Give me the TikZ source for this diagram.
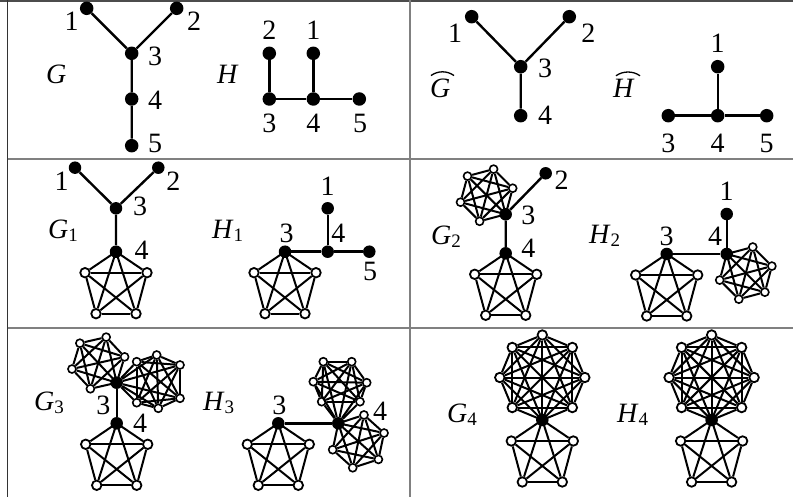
\documentclass[tikz,border=0pt]{standalone}
\usepackage{fontspec}
\setmainfont{Liberation Serif}
\usetikzlibrary{calc}
\tikzset{
  fn/.style={circle,fill=black,inner sep=0pt,minimum size=13.5pt},
  fns/.style={circle,fill=black,inner sep=0pt,minimum size=12.5pt},
  oc/.style={circle,draw=black,fill=white,line width=1.8pt,inner sep=0pt,minimum size=9.5pt},
  ocs/.style={circle,draw=black,fill=white,line width=1.6pt,inner sep=0pt,minimum size=8pt},
  tedge/.style={line width=2.4pt},
  cedge/.style={line width=2pt},
  lbl/.style={inner sep=0pt,font=\fontsize{28}{28}\selectfont},
  gname/.style={inner sep=0pt,anchor=base west,font=\fontsize{28}{28}\selectfont},
  hat/.style={line width=1.3pt},
  grid/.style={draw=black!50,line width=2pt}
}
\newcommand\completeg[1]{\foreach \a [count=\i] in {#1}{\foreach \b [count=\j] in {#1}{\ifnum\i<\j\relax\draw[cedge] (\a) -- (\b);\fi}}}
\newcommand\pentk[2]{%
  \coordinate (#1-1) at (#2);
  \node[oc] (#1-2) at ($(#2)+(-31,21)$) {};
  \node[oc] (#1-3) at ($(#2)+(31,21)$) {};
  \node[oc] (#1-4) at ($(#2)+(-20,62)$) {};
  \node[oc] (#1-5) at ($(#2)+(20,62)$) {};
  \completeg{#1-1,#1-2,#1-3,#1-4,#1-5}}
\newcommand\polyclique[6]{%
  \coordinate (#1-c) at ($(#3)+(#5:#4)$);
  \coordinate (#1-1) at (#3);
  \foreach \k in {2,...,#2}{\node[#6] (#1-\k) at ($(#1-c)+({#5+180+360*(\k-1)/#2}:#4)$) {};}
  \foreach \i in {1,...,#2}{\foreach \j in {1,...,#2}{\ifnum\i<\j\relax\draw[cedge] (#1-\i) -- (#1-\j);\fi}}}
\newcommand\sub[1]{\raisebox{-3pt}{\fontsize{19}{19}\selectfont #1}}
\begin{document}
\begin{tikzpicture}[x=1pt,y=-1pt]
\useasboundingbox (0,0) rectangle (793,497);
% table
\draw[draw=black!70,line width=1.8pt] (0,0.9) -- (793,0.9);
\draw[draw=black!80,line width=1.8pt] (7.5,0) -- (7.5,497);
\draw[grid] (410,0) -- (410,497);
\draw[grid] (7.5,159) -- (793,159);
\draw[grid] (7.5,328) -- (793,328);

% ---------- panel 1: G ----------
\node[fn] (a1) at (86.7,8.3) {};
\node[fn] (a2) at (176.7,8.3) {};
\node[fn] (a3) at (131.7,53.3) {};
\node[fn] (a4) at (131.7,99) {};
\node[fn] (a5) at (131.7,145.7) {};
\draw[tedge] (a1) -- (a3) (a2) -- (a3) (a3) -- (a4) (a4) -- (a5);
\node[lbl] (la1) at (71.7,21.7) {1};
\node[lbl] (la2) at (194,21.7) {2};
\node[lbl] (la3) at (155,56.7) {3};
\node[lbl] (la4) at (155,100) {4};
\node[lbl] (la5) at (155,143) {5};
\node[gname] (nG) at (46,84) {\textit{G}};
% H
\node[fn] (b2) at (269.3,53.3) {};
\node[fn] (b1) at (313.3,53.3) {};
\node[fn] (b3) at (269.3,99) {};
\node[fn] (b4) at (313.3,99) {};
\node[fn] (b5) at (359.3,99) {};
\draw[tedge] (b2) -- (b3) (b1) -- (b4) (b3) -- (b4) (b4) -- (b5);
\node[lbl] (lb2) at (269.3,30) {2};
\node[lbl] (lb1) at (313.3,30) {1};
\node[lbl] (lb3) at (269.3,123.3) {3};
\node[lbl] (lb4) at (313.3,123.3) {4};
\node[lbl] (lb5) at (360,123.3) {5};
\node[gname] (nH) at (217,84) {\textit{H}};

% ---------- panel 2 ----------
\node[fn] (c1) at (471.7,16.7) {};
\node[fn] (c2) at (569.3,16.7) {};
\node[fn] (c3) at (520.7,66.7) {};
\node[fn] (c4) at (520.7,115.7) {};
\draw[tedge] (c1) -- (c3) (c2) -- (c3) (c3) -- (c4);
\node[lbl] (lc1) at (455,33.3) {1};
\node[lbl] (lc2) at (588.3,33.3) {2};
\node[lbl] (lc3) at (545,68.3) {3};
\node[lbl] (lc4) at (545,115.7) {4};
\node[gname] (nGh) at (430,97.3) {\textit{G}};
\draw[hat] ([xshift=1pt,yshift=3pt]nGh.north west) .. controls ++(7,-5) and ++(-7,-5) .. ([xshift=24pt,yshift=3pt]nGh.north west);
\node[fn] (d1) at (717.7,66.7) {};
\node[fn] (d3) at (668.3,115.7) {};
\node[fn] (d4) at (717.7,115.7) {};
\node[fn] (d5) at (766.7,115.7) {};
\draw[tedge] (d1) -- (d4) (d3) -- (d4) (d4) -- (d5);
\node[lbl] (ld1) at (717.7,43.3) {1};
\node[lbl] (ld3) at (668.3,143.3) {3};
\node[lbl] (ld4) at (717.7,143.3) {4};
\node[lbl] (ld5) at (766.7,143.3) {5};
\node[gname] (nHh) at (613,97.3) {\textit{H}};
\draw[hat] ([xshift=3pt,yshift=3pt]nHh.north west) .. controls ++(7,-5) and ++(-7,-5) .. ([xshift=27pt,yshift=3pt]nHh.north west);

% ---------- panel 3: G1 ----------
\node[fns] (e1) at (75,167.7) {};
\node[fns] (e2) at (158.3,167.7) {};
\node[fns] (e3) at (116,208.3) {};
\node[fns] (e4) at (116,251.7) {};
\draw[tedge] (e1) -- (e3) (e2) -- (e3) (e3) -- (e4);
\pentk{pe}{e4}
\node[lbl] (le1) at (61.7,181.7) {1};
\node[lbl] (le2) at (173.3,181.7) {2};
\node[lbl] (le3) at (140,206.7) {3};
\node[lbl] (le4) at (141.7,250) {4};
\node[gname] (nG1) at (48,238.3) {\textit{G}\sub{1}};
% H1
\node[fns] (f3) at (285,251.7) {};
\node[fns] (f4) at (327.7,251.7) {};
\node[fns] (f1) at (327.7,208.3) {};
\node[fns] (f5) at (369.3,251.7) {};
\draw[tedge] (f1) -- (f4) (f3) -- (f4) (f4) -- (f5);
\pentk{pf}{f3}
\node[lbl] (lf3) at (286.7,233.3) {3};
\node[lbl] (lf4) at (338.3,233.3) {4};
\node[lbl] (lf1) at (327.7,186.7) {1};
\node[lbl] (lf5) at (370,271.7) {5};
\node[gname] (nH1) at (212,238.3) {\textit{H}\sub{1}};

% ---------- panel 4: G2 ----------
\node[fns] (g3) at (505.7,214.3) {};
\node[fns] (g4) at (505.7,253.3) {};
\node[fns] (g2) at (545.7,173.3) {};
\draw[tedge] (g2) -- (g3) (g3) -- (g4);
\pentk{pg}{g4}
\polyclique{hg}{6}{g3}{27}{225}{ocs}
\node[lbl] (lg2) at (561.7,180) {2};
\node[lbl] (lg3) at (528.3,215) {3};
\node[lbl] (lg4) at (528.3,248.3) {4};
\node[gname] (nG2) at (431,244.3) {\textit{G}\sub{2}};
% H2
\node[fns] (h3) at (666.7,254) {};
\node[fns] (h4) at (726.7,254) {};
\node[fns] (h1) at (726.7,214) {};
\draw[tedge] (h1) -- (h4) (h3) -- (h4);
\pentk{ph}{h3}
\polyclique{hh}{6}{h4}{27}{45}{ocs}
\node[lbl] (lh1) at (726.7,191.7) {1};
\node[lbl] (lh3) at (666.7,236.7) {3};
\node[lbl] (lh4) at (715,236.7) {4};
\node[gname] (nH2) at (589,243.3) {\textit{H}\sub{2}};

% ---------- panel 5: G3 ----------
\node[fns] (i3) at (116.7,382.7) {};
\node[fns] (i4) at (116.7,423.3) {};
\draw[tedge] (i3) -- (i4);
\pentk{pi}{i4}
\polyclique{hi}{6}{i3}{27}{227}{ocs}
\node[ocs] (ki2) at (136.7,361.7) {};
\node[ocs] (ki3) at (156.7,355) {};
\node[ocs] (ki4) at (180,365) {};
\node[ocs] (ki5) at (180,398.3) {};
\node[ocs] (ki6) at (158.3,408.3) {};
\node[ocs] (ki7) at (136.7,402.7) {};
\completeg{i3,ki2,ki3,ki4,ki5,ki6,ki7}
\node[lbl] (li3) at (103.3,405) {3};
\node[lbl] (li4) at (140,423.3) {4};
\node[gname] (nG3) at (34,410.7) {\textit{G}\sub{3}};
% H3
\node[fns] (j3) at (278.3,423.3) {};
\node[fns] (j4) at (338.3,423.3) {};
\draw[tedge] (j3) -- (j4);
\pentk{pj}{j3}
\polyclique{hj}{6}{j4}{27}{42}{ocs}
\node[ocs] (kj2) at (323.3,361.7) {};
\node[ocs] (kj3) at (351.7,361.7) {};
\node[ocs] (kj4) at (366.7,382.7) {};
\node[ocs] (kj5) at (360,401.7) {};
\node[ocs] (kj6) at (321.7,401.7) {};
\node[ocs] (kj7) at (313.3,381.7) {};
\completeg{j4,kj2,kj3,kj4,kj5,kj6,kj7}
\node[lbl] (lj3) at (279.3,405) {3};
\node[lbl] (lj4) at (380,411.7) {4};
\node[gname] (nH3) at (203,410.7) {\textit{H}\sub{3}};

% ---------- panel 6: G4, H4 ----------
\node[fns] (m) at (542.3,420) {};
\pentk{pm}{m}
\polyclique{om}{8}{m}{42.5}{270}{oc}
\node[gname] (nG4) at (447,422.7) {\textit{G}\sub{4}};
\node[fns] (n) at (711.6,420) {};
\pentk{pn}{n}
\polyclique{on}{8}{n}{42.5}{270}{oc}
\node[gname] (nH4) at (617,422.7) {\textit{H}\sub{4}};
\end{tikzpicture}
\end{document}
